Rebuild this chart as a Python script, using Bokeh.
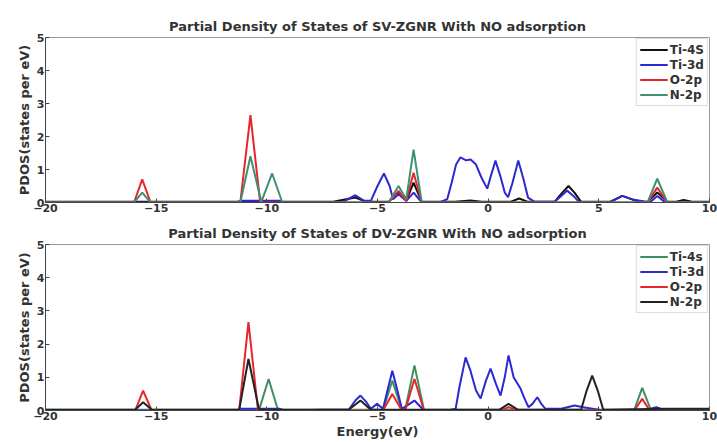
from bokeh.plotting import figure
from bokeh.layouts import column
from bokeh.models import FixedTicker, Legend, LegendItem, Range1d
from bokeh.embed import file_html
from bokeh.resources import INLINE

# ---------------- data ----------------
# Top panel: SV-ZGNR
top_ti4s_x = [-20, -7.0, -6.0, -5.5, -4.5, -4.05, -3.7, -3.37, -3.0, -1.5, -0.8, -0.3, 1.0, 1.4, 1.8, 3.0, 3.35, 3.63, 3.9, 4.2, 5.5, 6.06, 6.8, 7.2, 7.64, 8.1, 8.5, 8.83, 9.2, 10]
top_ti4s_y = [0.02, 0.02, 0.15, 0.02, 0.02, 0.3, 0.05, 0.6, 0.02, 0.02, 0.06, 0.02, 0.02, 0.12, 0.02, 0.02, 0.3, 0.5, 0.3, 0.02, 0.02, 0.2, 0.02, 0.02, 0.3, 0.02, 0.02, 0.08, 0.02, 0.02]

top_ti3d_x = [-20, -11.4, -11.2, -9.4, -9.2, -6.6, -6.0, -5.6, -5.3, -5.0, -4.71, -4.45, -4.3, -4.05, -3.7, -3.37, -3.0, -2.2, -1.85, -1.65, -1.45, -1.25, -1.0, -0.79, -0.55, -0.3, -0.04, 0.12, 0.33, 0.55, 0.75, 0.9, 1.1, 1.36, 1.6, 1.8, 2.1, 3.0, 3.3, 3.57, 3.85, 4.1, 5.5, 6.06, 6.6, 7.3, 7.64, 8.0, 10]
top_ti3d_y = [0, 0, 0.05, 0.05, 0, 0, 0.22, 0.05, 0.05, 0.5, 0.88, 0.5, 0.1, 0.25, 0.05, 0.3, 0, 0, 0.1, 0.6, 1.15, 1.37, 1.28, 1.3, 1.15, 0.75, 0.42, 0.8, 1.27, 0.8, 0.3, 0.16, 0.6, 1.27, 0.7, 0.15, 0.02, 0.02, 0.2, 0.36, 0.2, 0.02, 0, 0.2, 0.08, 0, 0.2, 0, 0]

top_o2p_x = [-20, -16.0, -15.63, -15.25, -11.2, -10.74, -10.3, -4.5, -4.05, -3.7, -3.37, -3.0, 7.2, 7.64, 8.1, 10]
top_o2p_y = [0, 0, 0.7, 0, 0, 2.65, 0, 0, 0.35, 0.05, 0.9, 0, 0, 0.45, 0, 0]

top_n2p_x = [-20, -16.0, -15.63, -15.25, -11.2, -10.74, -10.25, -9.76, -9.3, -4.5, -4.05, -3.7, -3.37, -3.0, 7.2, 7.64, 8.1, 10]
top_n2p_y = [0, 0, 0.3, 0, 0, 1.4, 0.02, 0.88, 0, 0, 0.5, 0.1, 1.6, 0, 0, 0.72, 0, 0]

# Bottom panel: DV-ZGNR
bot_ti4s_x = [-20, -10.35, -9.92, -9.5, -4.75, -4.33, -3.9, -3.75, -3.33, -2.9, 6.6, 6.96, 7.35, 10]
bot_ti4s_y = [0.02, 0.02, 0.95, 0.02, 0.02, 0.9, 0.02, 0.02, 1.36, 0.02, 0.02, 0.68, 0.02, 0.02]

bot_ti3d_x = [-20, -11.4, -11.2, -9.4, -9.2, -7.5, -6.3, -6.0, -5.77, -5.5, -5.3, -5.02, -4.75, -4.55, -4.33, -4.1, -3.9, -3.33, -2.9, -1.8, -1.47, -1.3, -1.02, -0.8, -0.55, -0.34, -0.1, 0.11, 0.35, 0.56, 0.75, 0.92, 1.15, 1.46, 1.65, 1.82, 2.0, 2.22, 2.4, 2.59, 3.3, 3.9, 4.3, 5.2, 7.0, 7.6, 8.0, 10]
bot_ti3d_y = [0, 0, 0.05, 0.05, 0, 0.02, 0.02, 0.3, 0.45, 0.25, 0.05, 0.2, 0.05, 0.6, 1.2, 0.6, 0.05, 0.3, 0, 0, 0.05, 0.7, 1.6, 1.2, 0.6, 0.36, 0.9, 1.26, 0.8, 0.45, 1.0, 1.66, 1.0, 0.66, 0.35, 0.1, 0.2, 0.4, 0.2, 0.05, 0.05, 0.15, 0.1, 0, 0, 0.1, 0, 0]

bot_o2p_x = [-20, -15.95, -15.59, -15.2, -11.25, -10.83, -10.4, -4.75, -4.33, -3.9, -3.75, -3.33, -2.9, 0.6, 0.92, 1.3, 6.6, 6.96, 7.3, 10]
bot_o2p_y = [0, 0, 0.6, 0, 0, 2.66, 0, 0, 0.5, 0, 0, 0.95, 0, 0, 0.1, 0, 0, 0.35, 0, 0]

bot_n2p_x = [-20, -15.95, -15.59, -15.2, -11.25, -10.83, -10.35, -6.3, -5.77, -5.3, 0.5, 0.92, 1.35, 4.2, 4.45, 4.7, 4.95, 5.2, 8.0, 10]
bot_n2p_y = [0.02, 0.02, 0.25, 0.02, 0.02, 1.55, 0.02, 0.02, 0.3, 0.02, 0.02, 0.2, 0.02, 0.02, 0.6, 1.05, 0.6, 0.02, 0.05, 0.05]

x_ticks = [-20, -15, -10, -5, 0, 5, 10]
y_ticks = [0, 1, 2, 3, 4, 5]

top_title = "Partial Density of States of SV-ZGNR With NO adsorption"
bot_title = "Partial Density of States of DV-ZGNR With NO adsorption"
top_labels = ["Ti-4S", "Ti-3d", "O-2p", "N-2p"]
bot_labels = ["Ti-4s", "Ti-3d", "O-2p", "N-2p"]
y_label = "PDOS(states per eV)"
x_label = "Energy(eV)"

FONT = "DejaVu Sans"


def make_panel(title, series, labels, colors, height, top, bottom, xlabel=None):
    p = figure(width=717, height=height, output_backend="svg", toolbar_location=None,
               x_range=Range1d(-20, 10), y_range=Range1d(0, 5),
               min_border_left=45, min_border_right=8,
               min_border_top=top, min_border_bottom=bottom)
    p.title.text = title
    p.title.align = "center"
    p.title.text_font = FONT
    p.title.text_font_size = "13px"
    p.title.text_font_style = "bold"
    p.title.text_color = "#333333"
    p.title.offset = 0
    p.title.standoff = 7
    p.xgrid.visible = False
    p.ygrid.visible = False
    p.outline_line_color = "#999999"
    p.background_fill_color = "white"
    p.border_fill_color = "white"
    for ax in (p.xaxis[0], p.yaxis[0]):
        ax.major_tick_in = 4
        ax.major_tick_out = 0
        ax.minor_tick_in = 0
        ax.minor_tick_out = 0
        ax.axis_line_color = "#444444"
        ax.major_tick_line_color = "#444444"
        ax.major_label_text_font = FONT
        ax.major_label_text_font_size = "11px"
        ax.major_label_text_font_style = "bold"
        ax.major_label_text_color = "#333333"
        ax.major_label_standoff = 1
    p.xaxis.ticker = FixedTicker(ticks=x_ticks)
    p.yaxis.ticker = FixedTicker(ticks=y_ticks)
    p.yaxis.axis_label = y_label
    p.yaxis.axis_label_text_font = FONT
    p.yaxis.axis_label_text_font_size = "13px"
    p.yaxis.axis_label_text_font_style = "bold"
    p.yaxis.axis_label_text_color = "#333333"
    p.yaxis.axis_label_standoff = 2
    if xlabel:
        p.xaxis.axis_label = xlabel
        p.xaxis.axis_label_text_font = FONT
        p.xaxis.axis_label_text_font_size = "13px"
        p.xaxis.axis_label_text_font_style = "bold"
        p.xaxis.axis_label_text_color = "#333333"
        p.xaxis.axis_label_standoff = 1
    items = []
    for (xs, ys), lab, col in zip(series, labels, colors):
        r = p.line(xs, ys, line_color=col, line_width=2)
        items.append(LegendItem(label=lab, renderers=[r]))
    leg = Legend(items=items, location="top_right")
    leg.margin = 1
    leg.padding = 3
    leg.spacing = 0
    leg.glyph_width = 28
    leg.glyph_height = 15
    leg.label_height = 15
    leg.label_standoff = 2
    leg.label_text_font = FONT
    leg.label_text_font_size = "12px"
    leg.label_text_font_style = "bold"
    leg.label_text_color = "#333333"
    leg.border_line_color = "#bbbbbb"
    leg.background_fill_alpha = 1
    p.add_layout(leg)
    return p


top_colors = ["#111111", "#2a2ad0", "#e8242c", "#3f8f72"]
bot_colors = ["#3f8f5f", "#2a2ad0", "#e8242c", "#222222"]

p1 = make_panel(top_title,
                [(top_ti4s_x, top_ti4s_y), (top_ti3d_x, top_ti3d_y), (top_o2p_x, top_o2p_y), (top_n2p_x, top_n2p_y)],
                top_labels, top_colors, 215, 37, 13)
p2 = make_panel(bot_title,
                [(bot_ti4s_x, bot_ti4s_y), (bot_ti3d_x, bot_ti3d_y), (bot_o2p_x, bot_o2p_y), (bot_n2p_x, bot_n2p_y)],
                bot_labels, bot_colors, 227, 29, 32, xlabel=x_label)

layout = column(p1, p2, spacing=0)
open("out.html", "w").write(file_html(layout, INLINE))
